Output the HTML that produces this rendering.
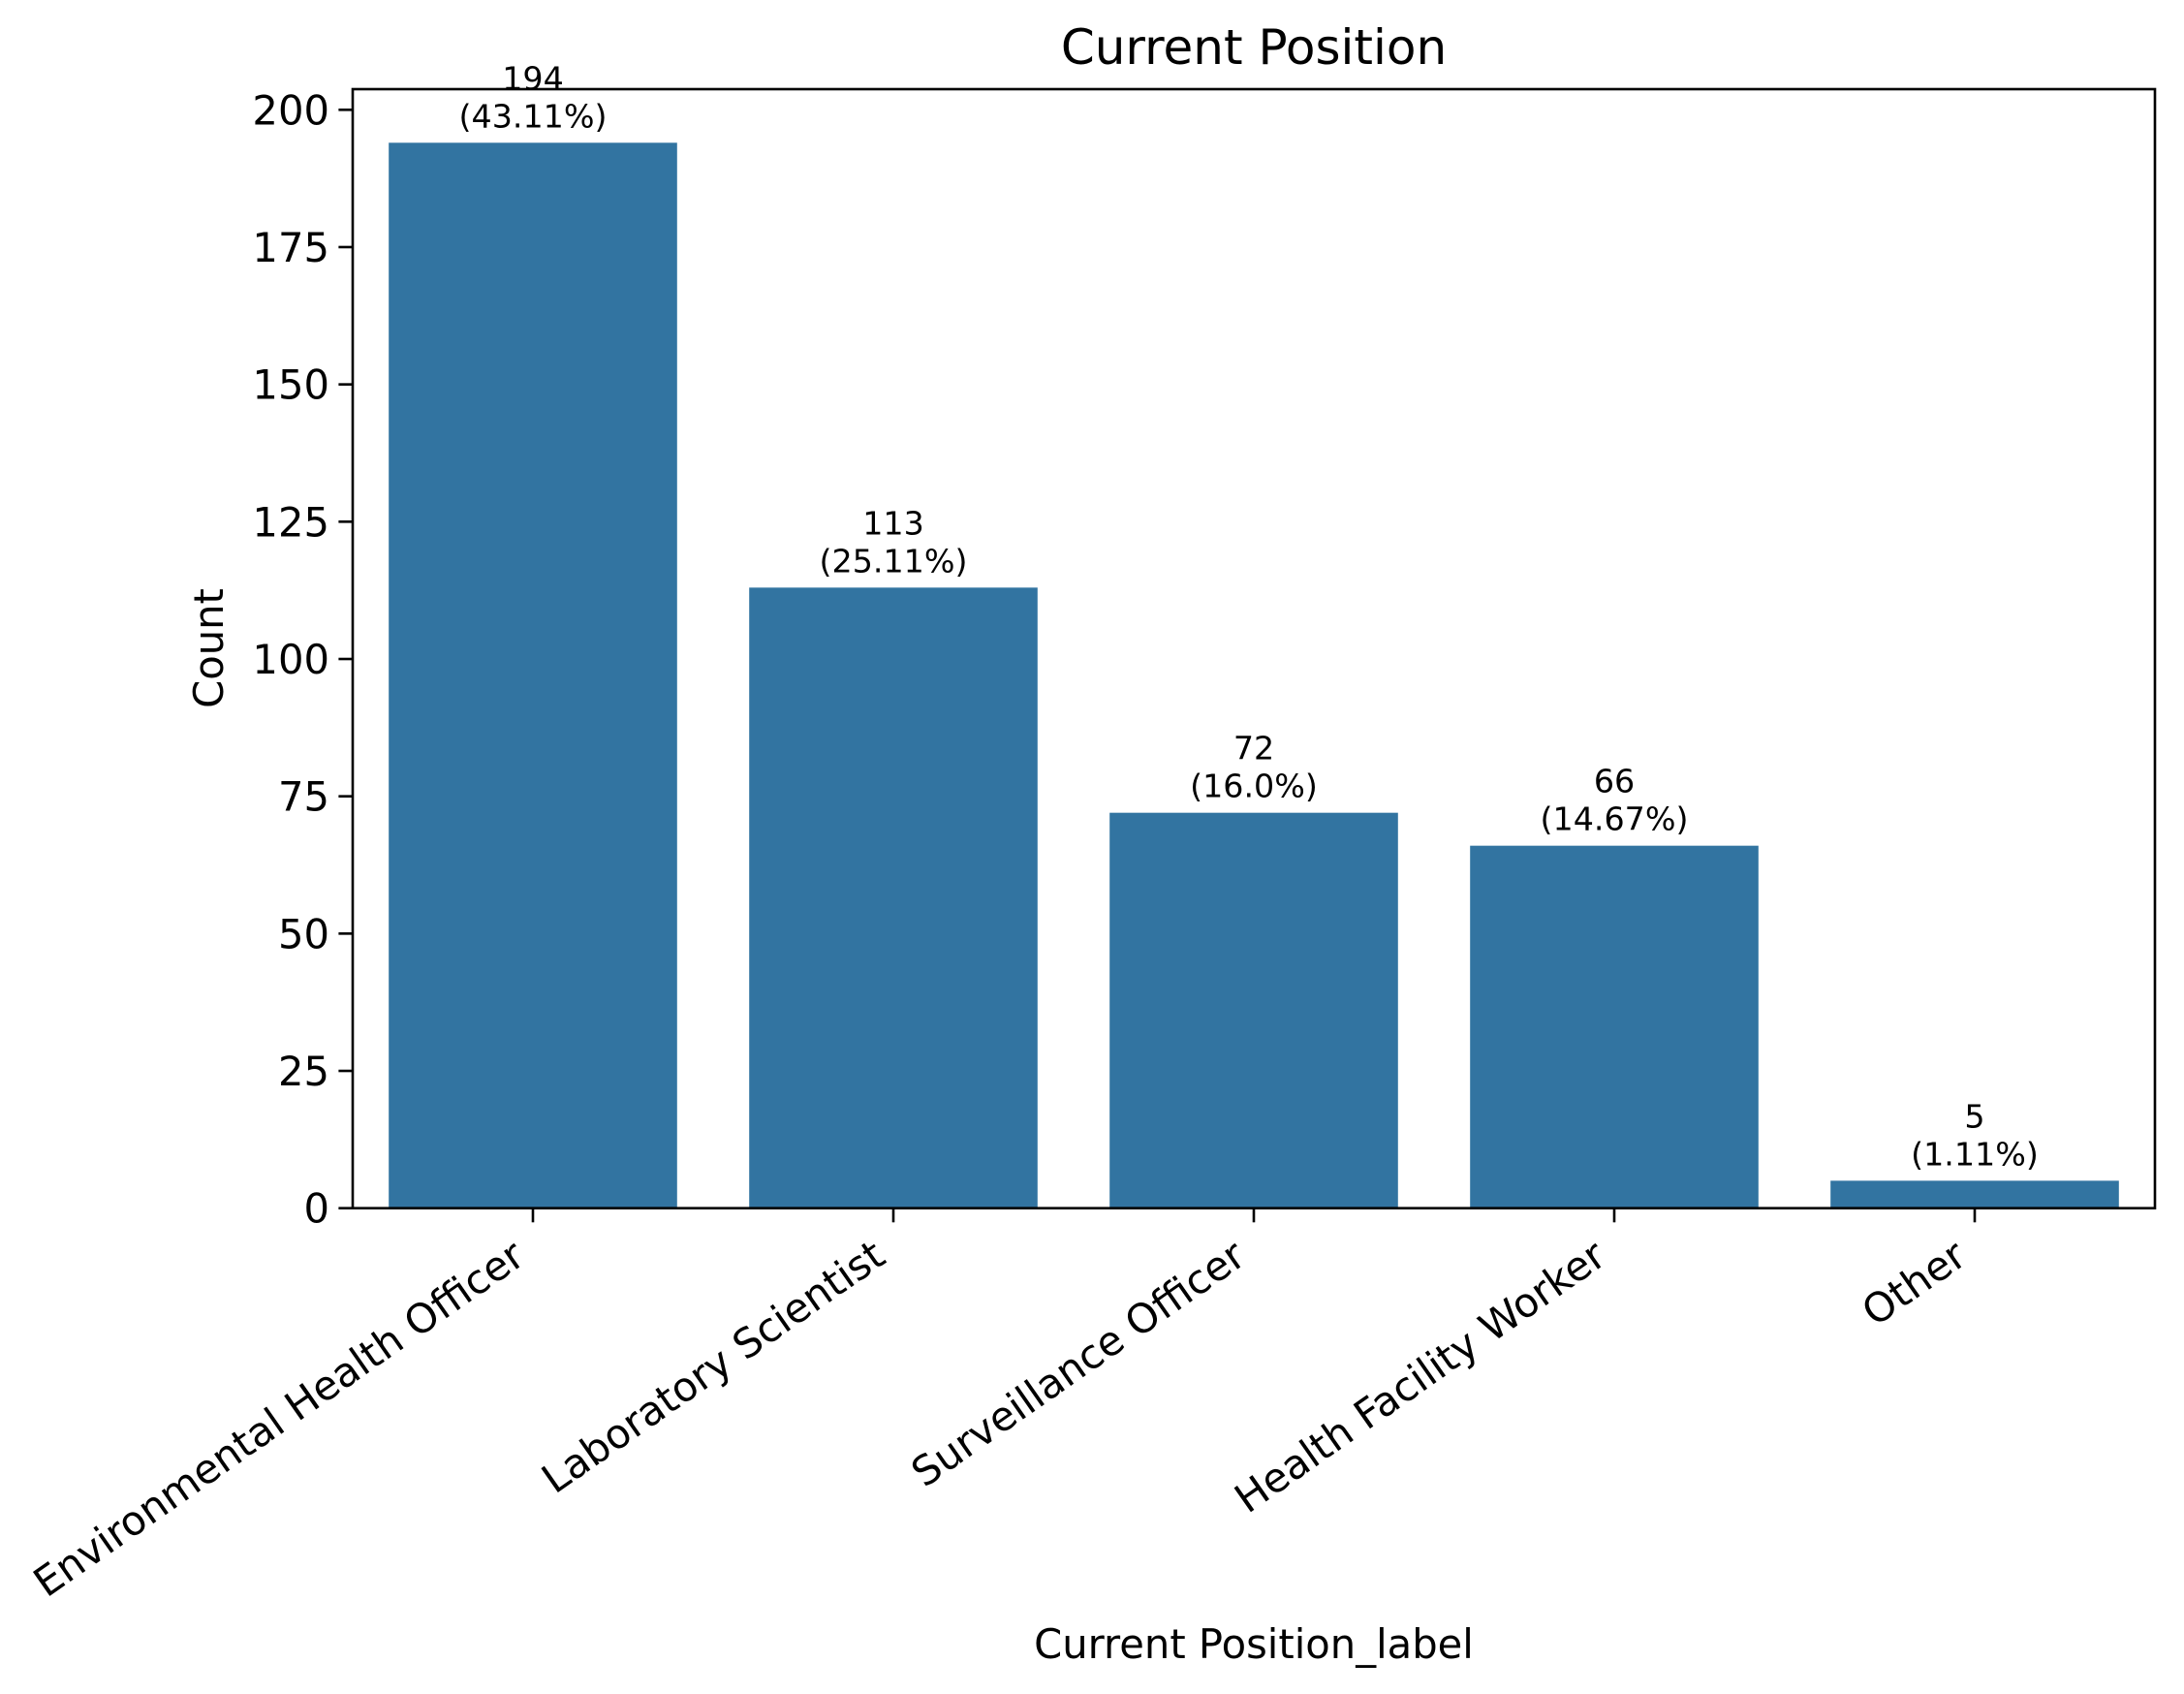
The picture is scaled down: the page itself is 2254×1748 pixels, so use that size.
<!DOCTYPE html>
<html><head><meta charset="utf-8"><style>
html,body{margin:0;padding:0;background:#fff}
svg{display:block;font-family:"DejaVu Sans","Liberation Sans",sans-serif}
</style></head><body>
<svg id="chart" width="2254" height="1748" viewBox="0 0 2254 1748" xmlns="http://www.w3.org/2000/svg">
<text x="1294" y="66" font-size="50" text-anchor="middle">Current Position</text>
<text x="1294" y="1711" font-size="41.7" text-anchor="middle">Current Position_label</text>
<text transform="translate(230,669) rotate(-90)" font-size="41.7" text-anchor="middle">Count</text>
<g id="marks"></g>
<rect x="364" y="92" width="1860" height="1154.7" fill="none" stroke="#000" stroke-width="2.6"/>
</svg>
<script>
const categories = ["Environmental Health Officer","Laboratory Scientist","Surveillance Officer","Health Facility Worker","Other"];
const counts = [194,113,72,66,5];
const percents = ["43.11%","25.11%","16.0%","14.67%","1.11%"];
const yTicks = [0,25,50,75,100,125,150,175,200];

const L=364,R=2224,T=92,B=1246.7,YMAX=(B-T)/5.667;
const NS="http://www.w3.org/2000/svg";
const g=document.getElementById('marks');
const slot=(R-L)/categories.length;
const xC=i=>L+slot*(i+0.5);
const yS=v=>B-(v/YMAX)*(B-T);
function mk(tag,attrs,txt){const e=document.createElementNS(NS,tag);for(const k in attrs)e.setAttribute(k,attrs[k]);if(txt!==undefined)e.textContent=txt;g.appendChild(e);return e;}

yTicks.forEach(v=>{
  const y=yS(v);
  const t=mk('line',{x1:L-14.6,x2:L,y1:y,y2:y,stroke:'#000','stroke-width':2.6});
  
  
  const l=mk('text',{x:L-24,y:y+15,'font-size':41.7,'text-anchor':'end'},String(v));
  
  
});

categories.forEach((c,i)=>{
  const cx=xC(i),bw=slot*0.8,top=yS(counts[i]);
  const b=mk('rect',{x:cx-bw/2,y:top,width:bw,height:B-top,fill:'#3274a1'});
  
  
  const n=mk('text',{x:cx,y:top-55,'font-size':33.3,'text-anchor':'middle'},String(counts[i]));
  
  
  const p=mk('text',{x:cx,y:top-16,'font-size':33.3,'text-anchor':'middle'},'('+percents[i]+')');
  
  
  const t=mk('line',{x1:cx,x2:cx,y1:B,y2:B+14.6,stroke:'#000','stroke-width':2.6});
  
  
  const ex=cx-6,ey=B+14.6+14.6+26;
  const l=mk('text',{x:0,y:0,'font-size':41.7,'text-anchor':'end',transform:'translate('+ex+','+ey+') rotate(-35)'},c);
  
  
});
</script>
</body></html>
